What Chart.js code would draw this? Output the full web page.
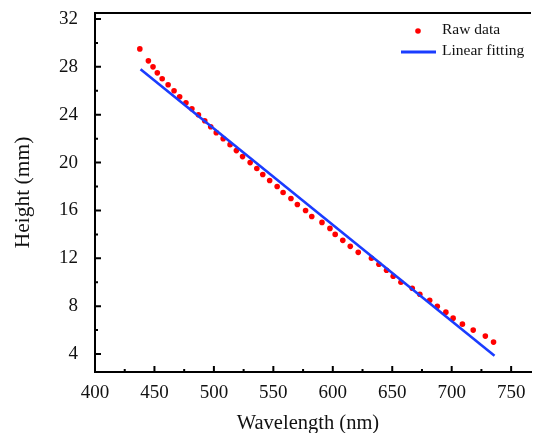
<!DOCTYPE html>
<html>
<head>
    <meta charset="UTF-8">
    <title>Height vs Wavelength</title>
    <script src="https://cdn.jsdelivr.net/npm/chart.js"></script>
    <style>
        html, body { margin: 0; padding: 0; background: #fff; overflow: hidden; }
        #wrap { width: 535px; height: 433px; position: relative; }
    </style>
</head>
<body>
    <div id="wrap"><canvas id="chart" width="535" height="433"></canvas></div>

    <script>
        // raw data
        const wavelength = [437.7, 444.9, 448.8, 452.4, 456.5, 461.5, 466.5, 471.2, 476.5, 481.5,
                            487.0, 492.3, 497.3, 502.0, 507.8, 513.6, 518.9, 524.1, 530.5, 536.1,
                            541.1, 546.9, 553.2, 558.2, 564.8, 570.2, 577.1, 582.3, 590.9, 597.6,
                            602.0, 608.4, 614.7, 621.4, 632.5, 638.8, 645.2, 650.8, 657.3, 666.8,
                            673.2, 681.5, 687.9, 695.1, 701.2, 709.0, 718.1, 728.3, 735.2];
        const heightMm = [29.5, 28.5, 28.0, 27.5, 27.0, 26.5, 26.0, 25.5, 25.0, 24.5,
                          24.0, 23.5, 23.0, 22.5, 22.0, 21.5, 21.0, 20.5, 20.0, 19.5,
                          19.0, 18.5, 18.0, 17.5, 17.0, 16.5, 16.0, 15.5, 15.0, 14.5,
                          14.0, 13.5, 13.0, 12.5, 12.0, 11.5, 11.0, 10.5, 10.0, 9.5,
                          9.0, 8.5, 8.0, 7.5, 7.0, 6.5, 6.0, 5.5, 5.0];

        // linear fit end points
        const fitX = [438.3, 736.0];
        const fitY = [27.8, 3.86];

        // axis ticks
        const xTicks = [400, 450, 500, 550, 600, 650, 700, 750];
        const xMinor = [425, 475, 525, 575, 625, 675, 725];
        const yTicks = [4, 8, 12, 16, 20, 24, 28, 32];
        const yMinor = [6, 10, 14, 18, 22, 26, 30];

        const xTitle = 'Wavelength (nm)';
        const yTitle = 'Height (mm)';

        const serif = '"Liberation Serif", "Times New Roman", serif';

        // fixed axis boxes, no extra label padding
        function fixBox(s, w, h) {
            if (w) s.width = w;
            if (h) s.height = h;
            s.paddingTop = 0;
            s.paddingBottom = 0;
            s.paddingLeft = 0;
            s.paddingRight = 0;
        }

        // inward tick marks, top frame line, x title and legend
        const decor = {
            id: 'decor',
            afterDraw(chart) {
                const { ctx, chartArea: a, scales: { x, y } } = chart;
                ctx.save();
                ctx.strokeStyle = '#000';
                ctx.lineWidth = 2;
                ctx.beginPath();
                ctx.moveTo(a.left - 1, a.top);
                ctx.lineTo(a.right, a.top);
                ctx.stroke();

                ctx.beginPath();
                xTicks.forEach(v => { const p = x.getPixelForValue(v); ctx.moveTo(p, a.bottom); ctx.lineTo(p, a.bottom - 6); });
                xMinor.forEach(v => { const p = x.getPixelForValue(v); ctx.moveTo(p, a.bottom); ctx.lineTo(p, a.bottom - 3); });
                yTicks.forEach(v => { const p = y.getPixelForValue(v); ctx.moveTo(a.left, p); ctx.lineTo(a.left + 6, p); });
                yMinor.forEach(v => { const p = y.getPixelForValue(v); ctx.moveTo(a.left, p); ctx.lineTo(a.left + 3, p); });
                ctx.stroke();

                // x axis title (the original plot runs past the right edge, so it sits left of centre)
                ctx.fillStyle = '#111';
                ctx.font = '20.5px ' + serif;
                ctx.textAlign = 'center';
                ctx.textBaseline = 'alphabetic';
                ctx.fillText(xTitle, a.left + 213, 429);

                // legend
                const ds = chart.data.datasets;
                ctx.fillStyle = ds[1].backgroundColor;
                ctx.beginPath();
                ctx.arc(418, 31, 2.8, 0, Math.PI * 2);
                ctx.fill();
                ctx.strokeStyle = ds[0].borderColor;
                ctx.lineWidth = 3;
                ctx.beginPath();
                ctx.moveTo(401, 52);
                ctx.lineTo(436, 52);
                ctx.stroke();
                ctx.fillStyle = '#111';
                ctx.font = '15.5px ' + serif;
                ctx.textAlign = 'left';
                ctx.textBaseline = 'middle';
                ctx.fillText(ds[1].label, 442, 30);
                ctx.fillText(ds[0].label, 442, 51);
                ctx.restore();
            }
        };

        const ctx = document.getElementById('chart').getContext('2d');
        new Chart(ctx, {
            type: 'scatter',
            data: {
                datasets: [
                    {
                        label: 'Linear fitting',
                        type: 'line',
                        data: fitX.map((v, i) => ({ x: v, y: fitY[i] })),
                        borderColor: '#1a3cff',
                        backgroundColor: '#1a3cff',
                        borderWidth: 2.6,
                        pointRadius: 0,
                        fill: false
                    },
                    {
                        label: 'Raw data',
                        data: wavelength.map((v, i) => ({ x: v, y: heightMm[i] })),
                        backgroundColor: '#ff0000',
                        borderWidth: 0,
                        pointRadius: 2.8
                    }
                ]
            },
            options: {
                responsive: false,
                animation: false,
                devicePixelRatio: 1,
                layout: { padding: { top: 13, right: 0, left: 0, bottom: 0 } },
                plugins: {
                    legend: { display: false },
                    tooltip: { enabled: false }
                },
                scales: {
                    x: {
                        type: 'linear',
                        min: 400,
                        max: 766.7,
                        afterBuildTicks: s => { s.ticks = xTicks.map(v => ({ value: v })); },
                        afterFit: s => fixBox(s, 0, 61),
                        grid: { display: false },
                        border: { display: true, color: '#000', width: 2 },
                        ticks: { color: '#111', padding: 2, maxRotation: 0, font: { family: serif, size: 19 } },
                        title: { display: false }
                    },
                    y: {
                        min: 2.5,
                        max: 32.5,
                        afterBuildTicks: s => { s.ticks = yTicks.map(v => ({ value: v })); },
                        afterFit: s => fixBox(s, 95, 0),
                        grid: { display: false },
                        border: { display: true, color: '#000', width: 2 },
                        ticks: { color: '#111', padding: 9, font: { family: serif, size: 19 } },
                        title: {
                            display: true,
                            text: yTitle,
                            color: '#111',
                            padding: { top: 10, bottom: 0 },
                            font: { family: serif, size: 21.5 }
                        }
                    }
                }
            },
            plugins: [decor]
        });
    </script>
</body>
</html>
